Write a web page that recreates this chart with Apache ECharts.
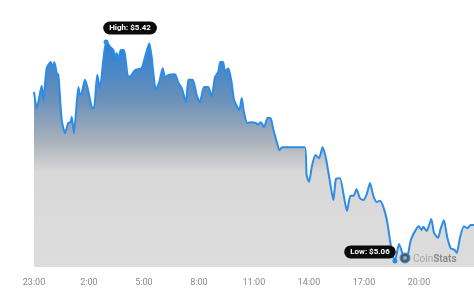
<!DOCTYPE html>
<html>
<head>
<meta charset="utf-8">
<script src="https://cdn.jsdelivr.net/npm/echarts@6/dist/echarts.min.js"></script>
<style>
html,body{margin:0;padding:0;background:#fff;}
#c{width:474px;height:294px;}
</style>
</head>
<body>
<div id="c"></div>
<script>
// hours since 23:00 (x) and price in USD (y)
var hours = [0,0.15,0.42,0.51,0.69,0.91,1.02,1.11,1.24,1.33,1.51,1.69,1.87,2.00,2.06,2.18,2.42,2.51,2.60,2.78,2.91,3.15,3.27,3.45,3.60,3.78,3.93,4.05,4.15,4.33,4.42,4.51,4.60,4.73,4.91,5.14,5.33,5.51,5.87,6.05,6.29,6.42,6.65,6.83,7.02,7.15,7.33,7.69,7.87,8.06,8.29,8.42,8.66,8.87,9.05,9.27,9.51,9.69,9.87,10.05,10.16,10.31,10.42,10.60,10.78,10.91,11.09,11.20,11.33,11.45,11.63,11.82,12.09,12.22,12.37,12.55,12.74,12.90,13.05,13.24,13.39,13.53,14.77,14.87,15.00,15.16,15.35,15.55,15.74,15.91,16.09,16.33,16.47,16.69,16.91,17.07,17.26,17.43,17.59,17.78,17.96,18.15,18.33,18.51,18.69,18.87,19.04,19.25,19.42,19.55,19.69,19.91,20.09,20.22,20.36,20.55,20.82,21.00,21.13,21.24,21.42,21.67,21.82,22.04,22.18,22.36,22.54,22.73,22.95,23.06,23.24,23.45,23.64,23.82,24.00];
var prices = [5.338,5.311,5.348,5.325,5.377,5.387,5.379,5.387,5.369,5.366,5.292,5.270,5.287,5.288,5.297,5.270,5.346,5.333,5.336,5.358,5.346,5.313,5.311,5.366,5.344,5.390,5.420,5.417,5.412,5.407,5.395,5.402,5.390,5.407,5.407,5.362,5.366,5.374,5.377,5.395,5.418,5.395,5.341,5.354,5.377,5.362,5.366,5.367,5.353,5.344,5.321,5.358,5.358,5.333,5.321,5.346,5.346,5.330,5.362,5.371,5.387,5.387,5.372,5.377,5.353,5.325,5.313,5.308,5.328,5.305,5.287,5.288,5.287,5.284,5.288,5.280,5.295,5.295,5.277,5.256,5.242,5.247,5.247,5.201,5.190,5.216,5.234,5.229,5.247,5.231,5.200,5.160,5.195,5.196,5.165,5.142,5.167,5.167,5.178,5.163,5.160,5.170,5.188,5.167,5.157,5.159,5.150,5.127,5.094,5.071,5.060,5.088,5.073,5.062,5.065,5.094,5.111,5.117,5.111,5.116,5.109,5.129,5.106,5.098,5.113,5.127,5.099,5.081,5.078,5.073,5.099,5.117,5.114,5.119,5.119];
var tickLabels = ['23:00','2:00','5:00','8:00','11:00','14:00','17:00','20:00','23:00'];
var highPoint = [3.93, 5.42];
var lowPoint = [19.69, 5.06];
var highText = 'High: $5.42';
var lowText = 'Low: $5.06';

var data = hours.map(function(h,i){return [h, prices[i]];});
var chart = echarts.init(document.getElementById('c'));
var labelStyle = {
  show:true, position:'inside', color:'#fff', fontSize:8, fontWeight:'bold',
  fontFamily:'Roboto, sans-serif', backgroundColor:'#0b0b0b', borderRadius:7,
  padding:[3,6,2,6]
};
chart.setOption({
  animation:false,
  grid:{left:34,right:0,top:42,bottom:27},
  xAxis:{
    type:'value', min:0, max:24, interval:3,
    axisLine:{show:false}, axisTick:{show:false}, splitLine:{show:false},
    axisLabel:{color:'#8a8a8a', fontSize:9, fontFamily:'Roboto, sans-serif', margin:11,
      showMaxLabel:false,
      formatter:function(v){return tickLabels[Math.round(v/3)];}}
  },
  yAxis:{
    type:'value', min:5.05, max:5.42, show:false, splitLine:{show:false}
  },
  series:[{
    type:'line', data:data, showSymbol:false, smooth:0.2,
    lineStyle:{color:'#2e8be6', width:2},
    areaStyle:{color:new echarts.graphic.LinearGradient(0,0,0,1,[
      {offset:0,color:'#2c7fd4'},
      {offset:0.25,color:'#6890ba'},
      {offset:0.44,color:'#a9b1bb'},
      {offset:0.58,color:'#d8d8d8'},
      {offset:1,color:'#dddddd'}
    ]), opacity:1},
    markPoint:{
      symbol:'circle', symbolSize:5,
      itemStyle:{color:'#2e8be6'},
      data:[
        {coord:highPoint, label:Object.assign({}, labelStyle, {formatter:highText, offset:[24,-14]})},
        {coord:lowPoint, label:Object.assign({}, labelStyle, {formatter:lowText, offset:[-25,-9]})}
      ]
    }
  }],
  graphic:[
    {type:'circle', z:100, shape:{cx:405, cy:258, r:5}, style:{fill:'#4b5b70', stroke:'#3d8fe0', lineWidth:1}},
    {type:'circle', z:101, shape:{cx:405, cy:258, r:2}, style:{fill:'#9aa6b5'}},
    {type:'text', z:100, x:413, y:259, style:{
      text:'{a|Coin}{b|Stats}', verticalAlign:'middle',
      rich:{a:{fill:'#a8a8a8', fontSize:10, fontFamily:'Roboto, sans-serif'},
            b:{fill:'#8c8c8c', fontSize:10, fontFamily:'Roboto, sans-serif', fontWeight:'bold'}}
    }}
  ]
});
</script>
</body>
</html>
